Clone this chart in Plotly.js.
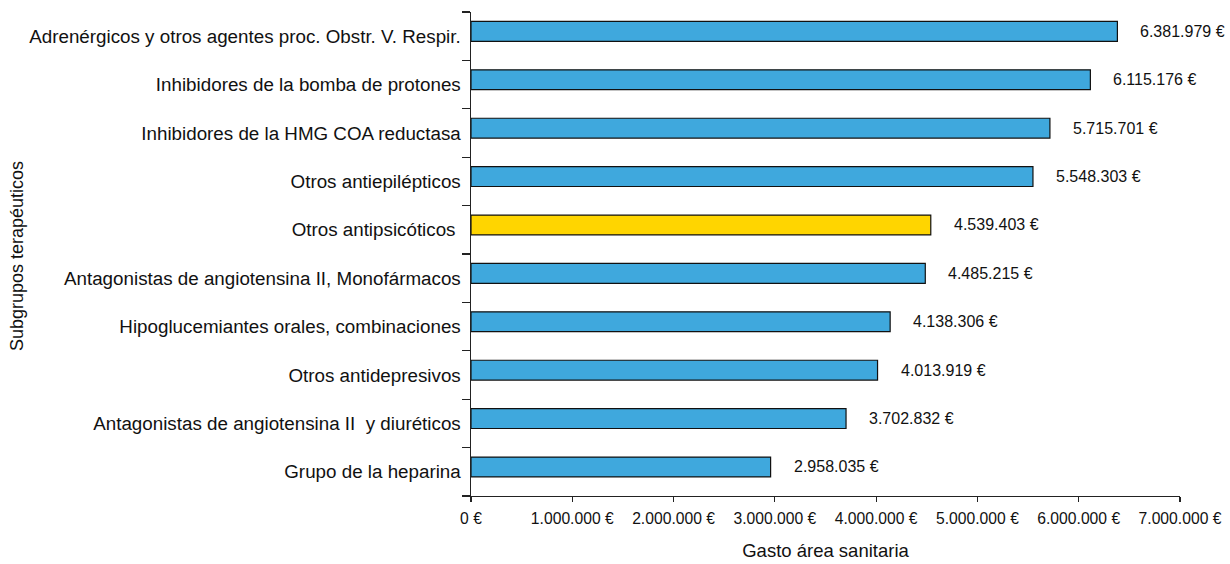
<!DOCTYPE html>
<html>
<head>
<meta charset="utf-8">
<script src="https://cdn.plot.ly/plotly-3.0.1.min.js"></script>
<style>html,body{margin:0;padding:0;background:#fff;}#chart{width:1230px;height:564px;}</style>
</head>
<body>
<div id="chart"></div>
<script>
// Categories listed bottom to top
const categories = [
  "Grupo de la heparina",
  "Antagonistas de angiotensina II\u00a0 y diuréticos",
  "Otros antidepresivos",
  "Hipoglucemiantes orales, combinaciones",
  "Antagonistas de angiotensina II, Monofármacos",
  "Otros antipsicóticos\u00a0",
  "Otros antiepilépticos",
  "Inhibidores de la HMG COA reductasa",
  "Inhibidores de la bomba de protones",
  "Adrenérgicos y otros agentes proc. Obstr. V. Respir."
];
const gasto = [2958035, 3702832, 4013919, 4138306, 4485215, 4539403, 5548303, 5715701, 6115176, 6381979];
const highlighted = "Otros antipsicóticos\u00a0";
const xTickVals = [0, 1000000, 2000000, 3000000, 4000000, 5000000, 6000000, 7000000];

const BLUE = "#3fa8dd";
const YELLOW = "#ffd500";
const FONT = "Liberation Sans, Arial, Helvetica, sans-serif";

function fmt(v) {
  return String(v).replace(/\B(?=(\d{3})+(?!\d))/g, ".") + " €";
}

const colors = categories.map(c => c === highlighted ? YELLOW : BLUE);

const trace = {
  type: "bar",
  orientation: "h",
  x: gasto,
  y: categories,
  width: 0.41,
  offset: -0.105,
  marker: { color: colors, line: { color: "#111", width: 1.2 } },
  hoverinfo: "x+y"
};

const annotations = categories.map((c, i) => ({
  x: gasto[i], y: c, xref: "x", yref: "y",
  text: fmt(gasto[i]), showarrow: false,
  xanchor: "left", yanchor: "middle", xshift: 21, yshift: 5,
  font: { family: FONT, size: 16, color: "#111" }
}));

annotations.push({
  xref: "paper", yref: "paper",
  x: (17 - 471) / 709, y: (564 - 68 - 256) / (564 - 68 - 12) ,
  text: "Subgrupos terapéuticos", textangle: -90, showarrow: false,
  xanchor: "center", yanchor: "middle",
  font: { family: FONT, size: 18, color: "#111" }
});

const layout = {
  width: 1230, height: 564,
  margin: { l: 471, r: 50, t: 12, b: 68 },
  paper_bgcolor: "#fff", plot_bgcolor: "#fff",
  separators: ",.",
  showlegend: false,
  font: { family: FONT, color: "#111" },
  xaxis: {
    range: [0, 7000000],
    tickmode: "array", tickvals: xTickVals, ticktext: xTickVals.map(fmt),
    ticks: "outside", ticklen: 5, tickcolor: "#222", tickwidth: 1.2,
    ticklabelstandoff: 3,
    showline: true, linecolor: "#222", linewidth: 1.2,
    showgrid: false, zeroline: false,
    tickfont: { family: FONT, size: 15.7, color: "#111" },
    title: { text: "Gasto área sanitaria", font: { family: FONT, size: 18.5, color: "#111" }, standoff: 18 },
    fixedrange: true
  },
  yaxis: {
    type: "category",
    categoryorder: "array", categoryarray: categories,
    range: [-0.5, 9.5],
    tickson: "boundaries",
    ticks: "outside", ticklen: 8, tickcolor: "#222", tickwidth: 1.2,
    ticklabelstandoff: 5,
    showline: true, linecolor: "#222", linewidth: 1.5,
    showgrid: false, zeroline: false,
    tickfont: { family: FONT, size: 18.8, color: "#111" },
    fixedrange: true
  },
  annotations: annotations
};

Plotly.newPlot("chart", [trace], layout, { displayModeBar: false, staticPlot: true });
</script>
</body>
</html>
